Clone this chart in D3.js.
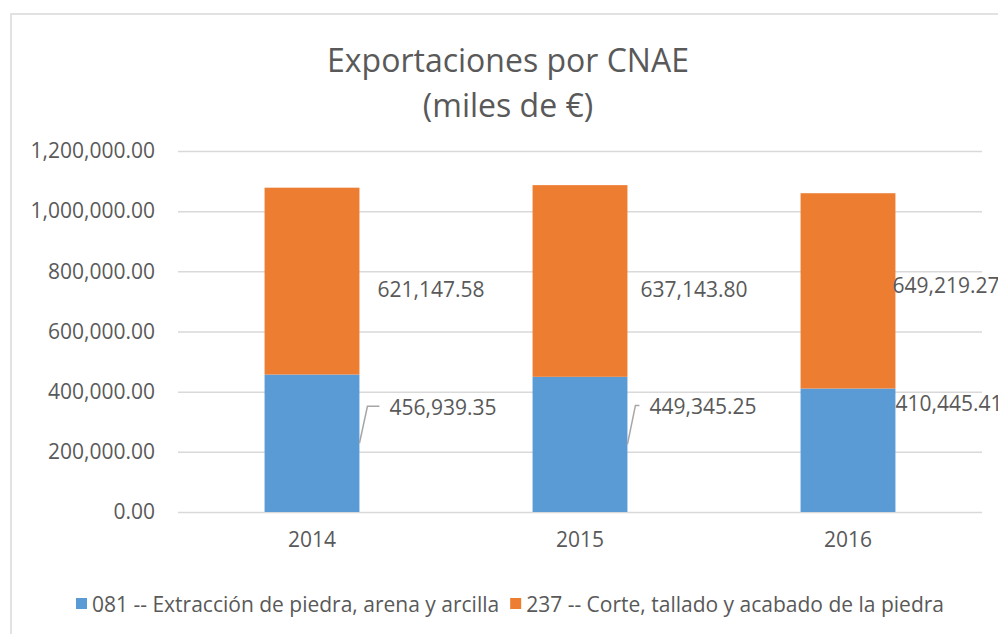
<!DOCTYPE html>
<html>
<head>
<meta charset="utf-8">
<script src="https://cdn.jsdelivr.net/npm/d3@7"></script>
<style>
  body { margin: 0; background: #fff; }
  text { font-family: "Open Sans", sans-serif; fill: #595959; }
</style>
</head>
<body>
<svg id="chart" width="998" height="634"></svg>
<script>
// data
var years = ["2014", "2015", "2016"];
var seriesNames = ["081 -- Extracción de piedra, arena y arcilla", "237 -- Corte, tallado y acabado de la piedra"];
var extraccion = [456939.35, 449345.25, 410445.41];
var corte = [621147.58, 637143.80, 649219.27];
var yTicks = [0, 200000, 400000, 600000, 800000, 1000000, 1200000];

// label nudges (Excel labels were dragged by hand)
var blueLabelShift = [[30, -36], [22, -38], [0, -47]];
var orangeLabelShift = [[18, 9], [13, 9], [-3, -5]];

var svg = d3.select("#chart"),
    margin = {top: 151, right: 16, bottom: 122, left: 178},
    width = +svg.attr("width") - margin.left - margin.right,
    height = +svg.attr("height") - margin.top - margin.bottom;

var color = d3.scaleOrdinal().domain(seriesNames).range(["#5B9BD5", "#ED7D31"]);

// chart frame
svg.append("rect")
    .attr("x", 11).attr("y", 14)
    .attr("width", 1000).attr("height", 700)
    .attr("fill", "none")
    .attr("stroke", "#D9D9D9")
    .attr("stroke-width", 1.5);

svg.append("text")
    .attr("x", 508).attr("y", 72)
    .attr("text-anchor", "middle")
    .style("font-size", "32px")
    .text("Exportaciones por CNAE");
svg.append("text")
    .attr("x", 508).attr("y", 117)
    .attr("text-anchor", "middle")
    .style("font-size", "32px")
    .text("(miles de €)");

var x = d3.scaleBand().domain(years).range([0, width]).paddingInner(0.646).paddingOuter(0.323),
    y = d3.scaleLinear().domain([0, 1200000]).range([height, 0]);

var g = svg.append("g")
    .attr("transform", "translate(" + margin.left + "," + margin.top + ")");

var fmt = d3.format(",.2f");

g.append("g")
    .attr("class", "axis axis--y")
    .call(d3.axisLeft(y).tickValues(yTicks).tickSize(-width).tickPadding(23).tickFormat(fmt))
    .call(function(a) {
      a.select(".domain").remove();
      a.selectAll("line").attr("stroke", "#D9D9D9").attr("stroke-width", 1.5);
      a.selectAll("text").style("font-size", "21px").attr("fill", "#595959");
    });

g.append("g")
    .attr("class", "axis axis--x")
    .attr("transform", "translate(0," + height + ")")
    .call(d3.axisBottom(x).tickSize(0).tickPadding(20))
    .call(function(a) {
      a.select(".domain").remove();
      a.selectAll("text").style("font-size", "21px").attr("fill", "#595959");
    });

var rows = years.map(function(yr, i) {
  var r = {year: yr};
  r[seriesNames[0]] = extraccion[i];
  r[seriesNames[1]] = corte[i];
  return r;
});
var stacked = d3.stack().keys(seriesNames)(rows);

var layer = g.selectAll(".layer")
  .data(stacked)
  .enter().append("g")
    .attr("class", "layer")
    .attr("fill", function(s) { return color(s.key); });

layer.selectAll("rect")
  .data(function(s) { return s; })
  .enter().append("rect")
    .attr("x", function(d) { return x(d.data.year); })
    .attr("y", function(d) { return y(d[1]); })
    .attr("width", x.bandwidth())
    .attr("height", function(d) { return y(d[0]) - y(d[1]); });

// data labels
stacked.forEach(function(s, si) {
  var shifts = si === 0 ? blueLabelShift : orangeLabelShift;
  s.forEach(function(d, i) {
    var bx = x(d.data.year) + x.bandwidth(),
        my = (y(d[0]) + y(d[1])) / 2,
        lx = bx + shifts[i][0],
        ly = my + shifts[i][1];
    if (si === 0 && shifts[i][0] > 10) {
      g.append("path")
        .attr("d", "M" + bx + "," + my + "L" + (bx + 8) + "," + (ly - 1) + "L" + (lx - 10) + "," + (ly - 1))
        .attr("fill", "none")
        .attr("stroke", "#A6A6A6")
        .attr("stroke-width", 1.5);
    }
    g.append("text")
      .attr("x", lx)
      .attr("y", ly)
      .attr("dy", "0.35em")
      .style("font-size", "21px")
      .text(fmt(d[1] - d[0]));
  });
});

// legend
var lx = 76;
seriesNames.forEach(function(name) {
  svg.append("rect")
    .attr("x", lx).attr("y", 598)
    .attr("width", 11).attr("height", 11)
    .attr("fill", color(name));
  var t = svg.append("text")
    .attr("x", lx + 16).attr("y", 612)
    .style("font-size", "21px")
    .text(name);
  lx += 16 + t.node().getComputedTextLength() + 11;
});
</script>
</body>
</html>
